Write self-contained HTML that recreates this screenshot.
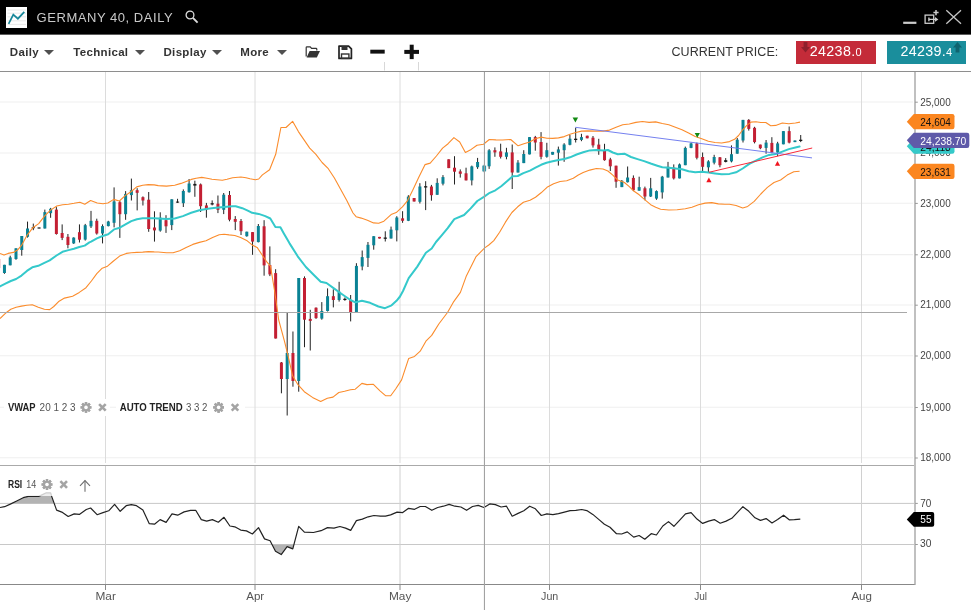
<!DOCTYPE html>
<html><head><meta charset="utf-8"><title>Germany 40, Daily</title>
<style>
html,body{margin:0;padding:0;background:#fff;}
body{width:971px;height:610px;overflow:hidden;position:relative;font-family:"Liberation Sans",sans-serif;}
#top,#bar,body>svg{will-change:transform;}
#top{position:absolute;left:0;top:0;width:971px;height:34px;background:#000;border-bottom:1px solid #5c5c5c;}
#logo{position:absolute;left:5.5px;top:7.3px;width:21.5px;height:20.5px;background:#fff;}
#title{position:absolute;left:36.6px;top:10px;font-size:13px;line-height:15px;color:#c9c9c9;letter-spacing:0.54px;white-space:nowrap;}
#bar{position:absolute;left:0;top:34px;width:971px;height:37px;background:#fff;border-bottom:1px solid #8e8e8e;}
#top{z-index:2;}
.mi{position:absolute;top:10.6px;font-size:11.5px;line-height:15px;font-weight:bold;color:#333;white-space:nowrap;letter-spacing:0.32px;}
.car{position:absolute;top:16.2px;width:0;height:0;border-left:5px solid transparent;border-right:5px solid transparent;border-top:5.6px solid #505050;}
#cp{position:absolute;left:671.5px;top:10.9px;font-size:12.5px;line-height:15px;color:#333;letter-spacing:0.06px;white-space:nowrap;}
.pb{position:absolute;top:6.7px;height:23.2px;color:#fff;font-size:14.3px;line-height:21.8px;white-space:nowrap;}
.pb span{font-size:11px;}
</style></head><body>
<div id="top">
 <div id="logo"><svg width="21.5" height="20.5" viewBox="0 0 21.5 20.5" style="display:block">
  <g stroke="#e3e3e3" stroke-width="0.8"><line x1="1.5" x2="20" y1="3" y2="3"/><line x1="1.5" x2="20" y1="6.2" y2="6.2"/><line x1="1.5" x2="20" y1="9.8" y2="9.8"/><line x1="1.5" x2="20" y1="13.8" y2="13.8"/><line x1="1.5" x2="20" y1="17.4" y2="17.4"/></g>
  <polyline points="2.6,16.9 7.3,7.6 11.9,11.7 18.3,4.9" fill="none" stroke="#17879a" stroke-width="1.7" stroke-linejoin="miter"/></svg></div>
 <div id="title">GERMANY 40, DAILY</div>
 <svg width="16" height="16" viewBox="0 0 16 16" style="position:absolute;left:183.5px;top:9px"><circle cx="6" cy="6" r="3.9" fill="none" stroke="#ddd" stroke-width="1.3"/><line x1="8.9" y1="8.9" x2="13.6" y2="13.6" stroke="#ddd" stroke-width="1.9"/></svg>
 <svg width="70" height="30" viewBox="900 0 70 30" style="position:absolute;left:900px;top:0">
  <rect x="903.2" y="21.7" width="13.2" height="2.2" fill="#ccc"/>
  <rect x="925.1" y="15.1" width="8.6" height="8.2" fill="none" stroke="#ccc" stroke-width="1.3"/>
  <path d="M928.6,19.4 H935.4 M928.9,17.6 V21.2" stroke="#ccc" stroke-width="1.4" fill="none"/>
  <path d="M935,17 L938.4,19.4 L935,21.8 Z" fill="#ccc"/>
  <path d="M936,10 V15.2 M933.4,12.6 H938.6" stroke="#ccc" stroke-width="1.5" fill="none"/>
  <path d="M946.3,10.2 L961,23.8 M961,10.2 L946.3,23.8" stroke="#c4c4c4" stroke-width="1.3" fill="none"/>
 </svg>
</div>
<div id="bar">
 <div class="mi" id="m1" style="left:9.8px">Daily</div><div class="car" style="left:44.4px"></div>
 <div class="mi" id="m2" style="left:73.3px">Technical</div><div class="car" style="left:134.7px"></div>
 <div class="mi" id="m3" style="left:163.5px">Display</div><div class="car" style="left:211.8px"></div>
 <div class="mi" id="m4" style="left:240.3px">More</div><div class="car" style="left:276.7px"></div>
 <svg width="130" height="37" viewBox="300 34 130 37" style="position:absolute;left:300px;top:0">
  <path d="M306.2,56.6 V47.6 Q306.2,46.8 307,46.8 H310.2 L311.6,48.4 H316 Q316.8,48.4 316.8,49.2 V50.6" fill="none" stroke="#333" stroke-width="1.2"/>
  <path d="M309.6,51 H320 L316.8,57.6 H306.6 Z" fill="#333"/>
  <path d="M339,46.1 H348.6 L351.4,48.9 V58.4 H339 Z" fill="none" stroke="#222" stroke-width="1.7" stroke-linejoin="round"/>
  <rect x="341.5" y="46.1" width="6" height="3.9" fill="#333"/>
  <rect x="341.5" y="54" width="7.4" height="4.4" fill="none" stroke="#333" stroke-width="1.4"/>
  <rect x="370.3" y="49.7" width="14.4" height="3.9" fill="#111"/>
  <rect x="404.3" y="49.9" width="14.7" height="4" fill="#111"/>
  <rect x="409.7" y="44.7" width="4" height="14.4" fill="#111"/>
  <line x1="384.5" x2="384.5" y1="62" y2="70.5" stroke="#d8d8d8" stroke-width="1"/>
  <line x1="418.5" x2="418.5" y1="62" y2="70.5" stroke="#d8d8d8" stroke-width="1"/>
 </svg>
 <div id="cp">CURRENT PRICE:</div>
 <div class="pb" style="left:796.1px;width:79.7px;background:#c42b39"><svg width="9" height="11" viewBox="0 0 9 11" style="position:absolute;left:4.8px;top:1.5px"><path d="M2.6,0 H6.4 V5 H9 L4.5,10.4 L0,5 H2.6 Z" fill="#8e1f2c"/></svg><div id="p1" style="position:absolute;left:13.6px;top:0;letter-spacing:0.36px">24238.<span>0</span></div></div>
 <div class="pb" style="left:887px;width:78.8px;background:#1a8e9c"><div id="p2" style="position:absolute;left:13.6px;top:0;letter-spacing:0.26px">24239.<span>4</span></div><svg width="9" height="11" viewBox="0 0 9 11" style="position:absolute;left:65.8px;top:1.5px"><path d="M2.6,10.4 H6.4 V5.4 H9 L4.5,0 L0,5.4 H2.6 Z" fill="#0f6470"/></svg></div>
</div>
<svg width="971" height="539" viewBox="0 71 971 539" style="position:absolute;left:0;top:71px" font-family="'Liberation Sans', sans-serif"><defs><clipPath id="cp"><rect x="0" y="72" width="908" height="393"/></clipPath></defs><line x1="0" x2="913" y1="102.0" y2="102.0" stroke="#efefef" stroke-width="1.1"/><line x1="0" x2="913" y1="153.0" y2="153.0" stroke="#efefef" stroke-width="1.1"/><line x1="0" x2="913" y1="203.2" y2="203.2" stroke="#efefef" stroke-width="1.1"/><line x1="0" x2="913" y1="254.6" y2="254.6" stroke="#efefef" stroke-width="1.1"/><line x1="0" x2="913" y1="305.0" y2="305.0" stroke="#efefef" stroke-width="1.1"/><line x1="0" x2="913" y1="355.8" y2="355.8" stroke="#efefef" stroke-width="1.1"/><line x1="0" x2="913" y1="407.3" y2="407.3" stroke="#efefef" stroke-width="1.1"/><line x1="0" x2="913" y1="457.8" y2="457.8" stroke="#efefef" stroke-width="1.1"/><line x1="0" x2="914" y1="503.4" y2="503.4" stroke="#c8c8c8" stroke-width="1"/><line x1="915" x2="917.8" y1="503.4" y2="503.4" stroke="#999" stroke-width="1"/><line x1="0" x2="914" y1="544.5" y2="544.5" stroke="#c8c8c8" stroke-width="1"/><line x1="915" x2="917.8" y1="544.5" y2="544.5" stroke="#999" stroke-width="1"/><line x1="105.5" x2="105.5" y1="72" y2="463" stroke="#dcdcdc" stroke-width="1"/><line x1="105.5" x2="105.5" y1="466" y2="584" stroke="#d0d0d0" stroke-width="1"/><line x1="105.5" x2="105.5" y1="584" y2="590" stroke="#8a8a8a" stroke-width="1"/><line x1="255" x2="255" y1="72" y2="463" stroke="#dcdcdc" stroke-width="1"/><line x1="255" x2="255" y1="466" y2="584" stroke="#d0d0d0" stroke-width="1"/><line x1="255" x2="255" y1="584" y2="590" stroke="#8a8a8a" stroke-width="1"/><line x1="400" x2="400" y1="72" y2="463" stroke="#dcdcdc" stroke-width="1"/><line x1="400" x2="400" y1="466" y2="584" stroke="#d0d0d0" stroke-width="1"/><line x1="400" x2="400" y1="584" y2="590" stroke="#8a8a8a" stroke-width="1"/><line x1="549.5" x2="549.5" y1="72" y2="463" stroke="#dcdcdc" stroke-width="1"/><line x1="549.5" x2="549.5" y1="466" y2="584" stroke="#d0d0d0" stroke-width="1"/><line x1="549.5" x2="549.5" y1="584" y2="590" stroke="#8a8a8a" stroke-width="1"/><line x1="700.5" x2="700.5" y1="72" y2="463" stroke="#dcdcdc" stroke-width="1"/><line x1="700.5" x2="700.5" y1="466" y2="584" stroke="#d0d0d0" stroke-width="1"/><line x1="700.5" x2="700.5" y1="584" y2="590" stroke="#8a8a8a" stroke-width="1"/><line x1="861.5" x2="861.5" y1="72" y2="463" stroke="#dcdcdc" stroke-width="1"/><line x1="861.5" x2="861.5" y1="466" y2="584" stroke="#d0d0d0" stroke-width="1"/><line x1="861.5" x2="861.5" y1="584" y2="590" stroke="#8a8a8a" stroke-width="1"/><line x1="0" x2="914" y1="465.5" y2="465.5" stroke="#aaa" stroke-width="1"/><line x1="0" x2="915" y1="584.5" y2="584.5" stroke="#888" stroke-width="1"/><line x1="915" x2="915" y1="72" y2="585" stroke="#a2a2a2" stroke-width="1.35"/><line x1="915" x2="917.8" y1="102.2" y2="102.2" stroke="#999" stroke-width="1"/><text x="920.2" y="105.5" font-size="10.8" fill="#444" textLength="30.5" lengthAdjust="spacingAndGlyphs">25,000</text><line x1="915" x2="917.8" y1="153.2" y2="153.2" stroke="#999" stroke-width="1"/><text x="920.2" y="156.4" font-size="10.8" fill="#444" textLength="30.5" lengthAdjust="spacingAndGlyphs">24,000</text><line x1="915" x2="917.8" y1="203.4" y2="203.4" stroke="#999" stroke-width="1"/><text x="920.2" y="206.6" font-size="10.8" fill="#444" textLength="30.5" lengthAdjust="spacingAndGlyphs">23,000</text><line x1="915" x2="917.8" y1="254.8" y2="254.8" stroke="#999" stroke-width="1"/><text x="920.2" y="258.1" font-size="10.8" fill="#444" textLength="30.5" lengthAdjust="spacingAndGlyphs">22,000</text><line x1="915" x2="917.8" y1="305.2" y2="305.2" stroke="#999" stroke-width="1"/><text x="920.2" y="308.4" font-size="10.8" fill="#444" textLength="30.5" lengthAdjust="spacingAndGlyphs">21,000</text><line x1="915" x2="917.8" y1="356.0" y2="356.0" stroke="#999" stroke-width="1"/><text x="920.2" y="359.2" font-size="10.8" fill="#444" textLength="30.5" lengthAdjust="spacingAndGlyphs">20,000</text><line x1="915" x2="917.8" y1="407.5" y2="407.5" stroke="#999" stroke-width="1"/><text x="920.2" y="410.8" font-size="10.8" fill="#444" textLength="30.5" lengthAdjust="spacingAndGlyphs">19,000</text><line x1="915" x2="917.8" y1="458.0" y2="458.0" stroke="#999" stroke-width="1"/><text x="920.2" y="461.2" font-size="10.8" fill="#444" textLength="30.5" lengthAdjust="spacingAndGlyphs">18,000</text><text x="920.3" y="506.7" font-size="10.8" fill="#444" textLength="11.1" lengthAdjust="spacingAndGlyphs">70</text><text x="920.1" y="547" font-size="10.8" fill="#444" textLength="11.4" lengthAdjust="spacingAndGlyphs">30</text><text x="95.5" y="599.8" font-size="10.5" fill="#555" textLength="20.4" lengthAdjust="spacingAndGlyphs">Mar</text><text x="246.2" y="599.8" font-size="10.5" fill="#555" textLength="18" lengthAdjust="spacingAndGlyphs">Apr</text><text x="389.0" y="599.8" font-size="10.5" fill="#555" textLength="22.4" lengthAdjust="spacingAndGlyphs">May</text><text x="541.1" y="599.8" font-size="10.5" fill="#555" textLength="17.2" lengthAdjust="spacingAndGlyphs">Jun</text><text x="694.2" y="599.8" font-size="10.5" fill="#555" textLength="12.9" lengthAdjust="spacingAndGlyphs">Jul</text><text x="851.4" y="599.8" font-size="10.5" fill="#555" textLength="20.6" lengthAdjust="spacingAndGlyphs">Aug</text><g clip-path="url(#cp)"><line x1="-1.32" x2="-1.32" y1="259.0" y2="268.1" stroke="#222" stroke-width="1"/><rect x="-2.82" y="259.0" width="3" height="9.1" fill="#c31f33"/><line x1="4.45" x2="4.45" y1="264.8" y2="273.8" stroke="#222" stroke-width="1"/><rect x="2.95" y="264.8" width="3" height="8.2" fill="#0a8294"/><line x1="10.22" x2="10.22" y1="255.7" y2="265.3" stroke="#222" stroke-width="1"/><rect x="8.72" y="257.4" width="3" height="7.9" fill="#0a8294"/><line x1="15.99" x2="15.99" y1="248.3" y2="259.8" stroke="#222" stroke-width="1"/><rect x="14.49" y="248.3" width="3" height="10.7" fill="#0a8294"/><line x1="21.76" x2="21.76" y1="236.0" y2="255.7" stroke="#222" stroke-width="1"/><rect x="20.26" y="236.0" width="3" height="14.0" fill="#0a8294"/><line x1="27.53" x2="27.53" y1="221.6" y2="237.6" stroke="#222" stroke-width="1"/><rect x="26.03" y="228.5" width="3" height="8.3" fill="#0a8294"/><line x1="33.30" x2="33.30" y1="223.6" y2="230.2" stroke="#222" stroke-width="1"/><rect x="31.70" y="227.2" width="3.2" height="1.0" fill="#1a1a1a"/><line x1="39.07" x2="39.07" y1="227.5" y2="228.5" stroke="#222" stroke-width="1"/><rect x="37.47" y="227.5" width="3.2" height="1.0" fill="#1a1a1a"/><line x1="44.84" x2="44.84" y1="209.6" y2="228.5" stroke="#222" stroke-width="1"/><rect x="43.34" y="212.1" width="3" height="16.4" fill="#0a8294"/><line x1="50.61" x2="50.61" y1="207.9" y2="217.8" stroke="#222" stroke-width="1"/><rect x="49.11" y="208.8" width="3" height="4.4" fill="#0a8294"/><line x1="56.38" x2="56.38" y1="207.1" y2="234.6" stroke="#222" stroke-width="1"/><rect x="54.88" y="209.6" width="3" height="24.4" fill="#c31f33"/><line x1="62.15" x2="62.15" y1="224.4" y2="240.1" stroke="#222" stroke-width="1"/><rect x="60.65" y="233.0" width="3" height="4.9" fill="#c31f33"/><line x1="67.92" x2="67.92" y1="234.0" y2="248.3" stroke="#222" stroke-width="1"/><rect x="66.42" y="236.8" width="3" height="8.2" fill="#c31f33"/><line x1="73.69" x2="73.69" y1="237.3" y2="243.9" stroke="#222" stroke-width="1"/><rect x="72.19" y="237.6" width="3" height="5.8" fill="#0a8294"/><line x1="79.46" x2="79.46" y1="224.4" y2="242.5" stroke="#222" stroke-width="1"/><rect x="77.96" y="232.2" width="3" height="7.5" fill="#c31f33"/><line x1="85.23" x2="85.23" y1="223.9" y2="240.6" stroke="#222" stroke-width="1"/><rect x="83.73" y="225.2" width="3" height="14.4" fill="#0a8294"/><line x1="91.00" x2="91.00" y1="210.9" y2="228.0" stroke="#222" stroke-width="1"/><rect x="89.50" y="220.8" width="3" height="5.6" fill="#0a8294"/><line x1="96.77" x2="96.77" y1="218.7" y2="234.6" stroke="#222" stroke-width="1"/><rect x="95.27" y="220.8" width="3" height="12.7" fill="#c31f33"/><line x1="102.54" x2="102.54" y1="224.4" y2="243.4" stroke="#222" stroke-width="1"/><rect x="101.04" y="226.1" width="3" height="7.4" fill="#0a8294"/><line x1="108.31" x2="108.31" y1="220.8" y2="226.4" stroke="#222" stroke-width="1"/><rect x="106.81" y="221.5" width="3" height="4.6" fill="#0a8294"/><line x1="114.08" x2="114.08" y1="187.4" y2="227.4" stroke="#222" stroke-width="1"/><rect x="112.58" y="201.4" width="3" height="21.4" fill="#0a8294"/><line x1="119.85" x2="119.85" y1="201.0" y2="237.9" stroke="#222" stroke-width="1"/><rect x="118.35" y="202.2" width="3" height="12.0" fill="#c31f33"/><line x1="125.62" x2="125.62" y1="191.1" y2="219.8" stroke="#222" stroke-width="1"/><rect x="124.12" y="193.9" width="3" height="20.3" fill="#0a8294"/><line x1="131.39" x2="131.39" y1="178.6" y2="200.5" stroke="#222" stroke-width="1"/><rect x="129.89" y="190.2" width="3" height="4.9" fill="#0a8294"/><line x1="137.16" x2="137.16" y1="188.2" y2="210.4" stroke="#222" stroke-width="1"/><rect x="135.66" y="190.2" width="3" height="2.6" fill="#c31f33"/><line x1="142.93" x2="142.93" y1="196.4" y2="205.5" stroke="#222" stroke-width="1"/><rect x="141.43" y="197.2" width="3" height="3.3" fill="#c31f33"/><line x1="148.70" x2="148.70" y1="192.0" y2="231.8" stroke="#222" stroke-width="1"/><rect x="147.20" y="199.7" width="3" height="29.3" fill="#c31f33"/><line x1="154.47" x2="154.47" y1="211.3" y2="241.6" stroke="#222" stroke-width="1"/><rect x="152.97" y="227.5" width="3" height="2.9" fill="#c31f33"/><line x1="160.24" x2="160.24" y1="212.3" y2="231.7" stroke="#222" stroke-width="1"/><rect x="158.74" y="217.7" width="3" height="12.9" fill="#0a8294"/><line x1="166.01" x2="166.01" y1="215.2" y2="232.9" stroke="#222" stroke-width="1"/><rect x="164.51" y="220.2" width="3" height="6.1" fill="#c31f33"/><line x1="171.78" x2="171.78" y1="199.3" y2="230.1" stroke="#222" stroke-width="1"/><rect x="170.28" y="199.3" width="3" height="25.8" fill="#0a8294"/><line x1="177.55" x2="177.55" y1="198.8" y2="202.9" stroke="#222" stroke-width="1"/><rect x="175.95" y="201.6" width="3.2" height="1.0" fill="#1a1a1a"/><line x1="183.32" x2="183.32" y1="189.4" y2="207.0" stroke="#222" stroke-width="1"/><rect x="181.82" y="191.0" width="3" height="12.2" fill="#0a8294"/><line x1="189.09" x2="189.09" y1="179.0" y2="192.7" stroke="#222" stroke-width="1"/><rect x="187.59" y="183.5" width="3" height="8.7" fill="#0a8294"/><line x1="194.86" x2="194.86" y1="180.7" y2="196.8" stroke="#222" stroke-width="1"/><rect x="193.26" y="183.9" width="3.2" height="1.7" fill="#1a1a1a"/><line x1="200.63" x2="200.63" y1="183.5" y2="212.0" stroke="#222" stroke-width="1"/><rect x="199.13" y="184.4" width="3" height="21.8" fill="#c31f33"/><line x1="206.40" x2="206.40" y1="202.9" y2="217.7" stroke="#222" stroke-width="1"/><rect x="204.90" y="205.4" width="3" height="4.1" fill="#c31f33"/><line x1="212.17" x2="212.17" y1="200.4" y2="205.4" stroke="#222" stroke-width="1"/><rect x="210.57" y="203.2" width="3.2" height="1.3" fill="#1a1a1a"/><line x1="217.94" x2="217.94" y1="195.5" y2="213.1" stroke="#222" stroke-width="1"/><rect x="216.44" y="203.7" width="3" height="6.1" fill="#c31f33"/><line x1="223.71" x2="223.71" y1="193.0" y2="214.1" stroke="#222" stroke-width="1"/><rect x="222.21" y="194.7" width="3" height="15.1" fill="#0a8294"/><line x1="229.48" x2="229.48" y1="191.0" y2="221.3" stroke="#222" stroke-width="1"/><rect x="227.98" y="195.0" width="3" height="24.7" fill="#c31f33"/><line x1="235.25" x2="235.25" y1="216.1" y2="230.1" stroke="#222" stroke-width="1"/><rect x="233.75" y="219.0" width="3" height="2.8" fill="#c31f33"/><line x1="241.02" x2="241.02" y1="219.0" y2="235.0" stroke="#222" stroke-width="1"/><rect x="239.52" y="221.0" width="3" height="10.2" fill="#c31f33"/><line x1="246.79" x2="246.79" y1="231.7" y2="236.7" stroke="#222" stroke-width="1"/><rect x="245.29" y="231.7" width="3" height="4.5" fill="#0a8294"/><line x1="252.56" x2="252.56" y1="232.1" y2="254.8" stroke="#222" stroke-width="1"/><rect x="251.06" y="232.1" width="3" height="9.5" fill="#c31f33"/><line x1="258.33" x2="258.33" y1="224.0" y2="242.4" stroke="#222" stroke-width="1"/><rect x="256.83" y="226.0" width="3" height="16.1" fill="#0a8294"/><line x1="264.10" x2="264.10" y1="220.2" y2="275.7" stroke="#222" stroke-width="1"/><rect x="262.60" y="226.3" width="3" height="39.1" fill="#c31f33"/><line x1="269.87" x2="269.87" y1="246.4" y2="276.1" stroke="#222" stroke-width="1"/><rect x="268.37" y="265.0" width="3" height="9.4" fill="#c31f33"/><line x1="275.64" x2="275.64" y1="269.2" y2="338.5" stroke="#222" stroke-width="1"/><rect x="274.14" y="273.1" width="3" height="65.4" fill="#c31f33"/><line x1="281.41" x2="281.41" y1="362.0" y2="393.3" stroke="#222" stroke-width="1"/><rect x="279.91" y="362.5" width="3" height="16.5" fill="#c31f33"/><line x1="287.18" x2="287.18" y1="313.0" y2="415.5" stroke="#222" stroke-width="1"/><rect x="285.68" y="353.0" width="3" height="26.0" fill="#0a8294"/><line x1="292.95" x2="292.95" y1="331.5" y2="386.7" stroke="#222" stroke-width="1"/><rect x="291.45" y="353.0" width="3" height="28.0" fill="#c31f33"/><line x1="298.72" x2="298.72" y1="278.0" y2="391.7" stroke="#222" stroke-width="1"/><rect x="297.22" y="278.0" width="3" height="103.0" fill="#0a8294"/><line x1="304.49" x2="304.49" y1="276.4" y2="347.2" stroke="#222" stroke-width="1"/><rect x="302.99" y="278.0" width="3" height="41.7" fill="#c31f33"/><line x1="310.26" x2="310.26" y1="309.8" y2="350.5" stroke="#222" stroke-width="1"/><rect x="308.76" y="318.9" width="3" height="2.0" fill="#c31f33"/><line x1="316.03" x2="316.03" y1="307.4" y2="318.9" stroke="#222" stroke-width="1"/><rect x="314.53" y="307.7" width="3" height="10.4" fill="#c31f33"/><line x1="321.80" x2="321.80" y1="302.1" y2="319.7" stroke="#222" stroke-width="1"/><rect x="320.30" y="311.0" width="3" height="7.6" fill="#0a8294"/><line x1="327.57" x2="327.57" y1="288.4" y2="311.5" stroke="#222" stroke-width="1"/><rect x="326.07" y="296.2" width="3" height="14.8" fill="#0a8294"/><line x1="333.34" x2="333.34" y1="289.3" y2="307.4" stroke="#222" stroke-width="1"/><rect x="331.84" y="296.2" width="3" height="3.8" fill="#c31f33"/><line x1="339.11" x2="339.11" y1="281.8" y2="301.6" stroke="#222" stroke-width="1"/><rect x="337.61" y="291.7" width="3" height="8.3" fill="#0a8294"/><line x1="344.88" x2="344.88" y1="297.5" y2="300.8" stroke="#222" stroke-width="1"/><rect x="343.28" y="298.8" width="3.2" height="1.2" fill="#1a1a1a"/><line x1="350.65" x2="350.65" y1="295.0" y2="321.4" stroke="#222" stroke-width="1"/><rect x="349.15" y="300.0" width="3" height="12.3" fill="#c31f33"/><line x1="356.42" x2="356.42" y1="263.2" y2="312.3" stroke="#222" stroke-width="1"/><rect x="354.92" y="265.9" width="3" height="46.4" fill="#0a8294"/><line x1="362.19" x2="362.19" y1="250.5" y2="270.3" stroke="#222" stroke-width="1"/><rect x="360.69" y="257.1" width="3" height="9.4" fill="#0a8294"/><line x1="367.96" x2="367.96" y1="242.0" y2="267.0" stroke="#222" stroke-width="1"/><rect x="366.46" y="244.8" width="3" height="13.1" fill="#0a8294"/><line x1="373.73" x2="373.73" y1="236.2" y2="249.7" stroke="#222" stroke-width="1"/><rect x="372.23" y="236.2" width="3" height="9.1" fill="#0a8294"/><line x1="379.50" x2="379.50" y1="236.9" y2="238.5" stroke="#222" stroke-width="1"/><rect x="378.00" y="236.9" width="3" height="1.6" fill="#c31f33"/><line x1="385.27" x2="385.27" y1="231.3" y2="241.5" stroke="#222" stroke-width="1"/><rect x="383.67" y="237.5" width="3.2" height="1.3" fill="#1a1a1a"/><line x1="391.04" x2="391.04" y1="226.6" y2="238.5" stroke="#222" stroke-width="1"/><rect x="389.54" y="229.6" width="3" height="8.9" fill="#0a8294"/><line x1="396.81" x2="396.81" y1="216.2" y2="241.4" stroke="#222" stroke-width="1"/><rect x="395.31" y="217.5" width="3" height="12.8" fill="#0a8294"/><line x1="402.58" x2="402.58" y1="211.2" y2="222.8" stroke="#222" stroke-width="1"/><rect x="401.08" y="218.3" width="3" height="2.5" fill="#c31f33"/><line x1="408.35" x2="408.35" y1="195.2" y2="221.1" stroke="#222" stroke-width="1"/><rect x="406.85" y="196.6" width="3" height="24.2" fill="#0a8294"/><line x1="414.12" x2="414.12" y1="198.0" y2="201.5" stroke="#222" stroke-width="1"/><rect x="412.62" y="198.0" width="3" height="3.5" fill="#c31f33"/><line x1="419.89" x2="419.89" y1="183.2" y2="203.5" stroke="#222" stroke-width="1"/><rect x="418.39" y="186.5" width="3" height="15.3" fill="#0a8294"/><line x1="425.66" x2="425.66" y1="181.2" y2="210.1" stroke="#222" stroke-width="1"/><rect x="424.06" y="186.2" width="3.2" height="1.3" fill="#1a1a1a"/><line x1="431.43" x2="431.43" y1="184.9" y2="200.7" stroke="#222" stroke-width="1"/><rect x="429.93" y="186.5" width="3" height="8.7" fill="#c31f33"/><line x1="437.20" x2="437.20" y1="178.3" y2="194.8" stroke="#222" stroke-width="1"/><rect x="435.70" y="182.9" width="3" height="11.9" fill="#0a8294"/><line x1="442.97" x2="442.97" y1="175.1" y2="185.4" stroke="#222" stroke-width="1"/><rect x="441.47" y="177.1" width="3" height="6.6" fill="#0a8294"/><line x1="448.74" x2="448.74" y1="159.3" y2="168.1" stroke="#222" stroke-width="1"/><rect x="447.24" y="159.3" width="3" height="8.8" fill="#c31f33"/><line x1="454.51" x2="454.51" y1="156.2" y2="184.5" stroke="#222" stroke-width="1"/><rect x="453.01" y="167.7" width="3" height="4.0" fill="#c31f33"/><line x1="460.28" x2="460.28" y1="169.4" y2="177.6" stroke="#222" stroke-width="1"/><rect x="458.78" y="171.4" width="3" height="2.4" fill="#c31f33"/><line x1="466.05" x2="466.05" y1="167.7" y2="180.4" stroke="#222" stroke-width="1"/><rect x="464.55" y="173.3" width="3" height="7.1" fill="#c31f33"/><line x1="471.82" x2="471.82" y1="165.6" y2="185.4" stroke="#222" stroke-width="1"/><rect x="470.32" y="166.4" width="3" height="14.0" fill="#0a8294"/><line x1="477.59" x2="477.59" y1="157.9" y2="168.9" stroke="#222" stroke-width="1"/><rect x="476.09" y="162.0" width="3" height="5.2" fill="#0a8294"/><line x1="484.20" x2="484.20" y1="164.8" y2="172.2" stroke="#222" stroke-width="1"/><rect x="482.30" y="165.6" width="3.8" height="5.8" fill="#2f98aa"/><line x1="489.13" x2="489.13" y1="149.1" y2="168.9" stroke="#222" stroke-width="1"/><rect x="487.63" y="150.3" width="3" height="16.0" fill="#0a8294"/><line x1="494.90" x2="494.90" y1="147.4" y2="156.8" stroke="#222" stroke-width="1"/><rect x="493.40" y="150.2" width="3" height="2.2" fill="#c31f33"/><line x1="500.67" x2="500.67" y1="143.7" y2="158.5" stroke="#222" stroke-width="1"/><rect x="499.17" y="151.4" width="3" height="5.4" fill="#c31f33"/><line x1="506.44" x2="506.44" y1="147.8" y2="159.3" stroke="#222" stroke-width="1"/><rect x="504.94" y="152.4" width="3" height="4.4" fill="#0a8294"/><line x1="512.21" x2="512.21" y1="144.5" y2="189.0" stroke="#222" stroke-width="1"/><rect x="510.71" y="152.4" width="3" height="20.1" fill="#c31f33"/><line x1="517.98" x2="517.98" y1="160.1" y2="172.5" stroke="#222" stroke-width="1"/><rect x="516.48" y="162.6" width="3" height="9.9" fill="#0a8294"/><line x1="523.75" x2="523.75" y1="150.2" y2="163.1" stroke="#222" stroke-width="1"/><rect x="522.25" y="154.0" width="3" height="9.1" fill="#0a8294"/><line x1="529.52" x2="529.52" y1="137.1" y2="154.4" stroke="#222" stroke-width="1"/><rect x="528.02" y="137.1" width="3" height="17.3" fill="#0a8294"/><line x1="535.29" x2="535.29" y1="135.9" y2="150.7" stroke="#222" stroke-width="1"/><rect x="533.79" y="137.1" width="3" height="5.4" fill="#c31f33"/><line x1="541.06" x2="541.06" y1="132.1" y2="159.3" stroke="#222" stroke-width="1"/><rect x="539.56" y="142.0" width="3" height="14.8" fill="#c31f33"/><line x1="546.83" x2="546.83" y1="142.8" y2="157.7" stroke="#222" stroke-width="1"/><rect x="545.33" y="150.2" width="3" height="6.6" fill="#0a8294"/><line x1="552.60" x2="552.60" y1="151.9" y2="154.7" stroke="#222" stroke-width="1"/><rect x="551.10" y="151.9" width="3" height="2.8" fill="#0a8294"/><line x1="558.37" x2="558.37" y1="146.6" y2="165.6" stroke="#222" stroke-width="1"/><rect x="556.87" y="149.4" width="3" height="3.3" fill="#0a8294"/><line x1="564.14" x2="564.14" y1="143.2" y2="161.8" stroke="#222" stroke-width="1"/><rect x="562.64" y="144.5" width="3" height="5.7" fill="#0a8294"/><line x1="569.91" x2="569.91" y1="134.9" y2="145.3" stroke="#222" stroke-width="1"/><rect x="568.41" y="138.7" width="3" height="6.1" fill="#0a8294"/><line x1="575.68" x2="575.68" y1="127.7" y2="142.5" stroke="#222" stroke-width="1"/><rect x="574.08" y="138.7" width="3.2" height="1.3" fill="#1a1a1a"/><line x1="581.45" x2="581.45" y1="133.8" y2="141.2" stroke="#222" stroke-width="1"/><rect x="579.95" y="137.1" width="3" height="2.8" fill="#0a8294"/><line x1="587.22" x2="587.22" y1="135.7" y2="138.3" stroke="#222" stroke-width="1"/><rect x="585.72" y="135.7" width="3" height="2.6" fill="#c31f33"/><line x1="592.99" x2="592.99" y1="136.0" y2="147.6" stroke="#222" stroke-width="1"/><rect x="591.49" y="137.7" width="3" height="7.7" fill="#c31f33"/><line x1="598.76" x2="598.76" y1="138.8" y2="154.8" stroke="#222" stroke-width="1"/><rect x="597.26" y="144.6" width="3" height="6.6" fill="#c31f33"/><line x1="604.53" x2="604.53" y1="143.8" y2="160.7" stroke="#222" stroke-width="1"/><rect x="603.03" y="150.4" width="3" height="9.8" fill="#c31f33"/><line x1="610.30" x2="610.30" y1="157.8" y2="171.0" stroke="#222" stroke-width="1"/><rect x="608.80" y="159.4" width="3" height="6.9" fill="#c31f33"/><line x1="616.07" x2="616.07" y1="165.7" y2="187.8" stroke="#222" stroke-width="1"/><rect x="614.57" y="165.7" width="3" height="16.0" fill="#c31f33"/><line x1="621.84" x2="621.84" y1="180.0" y2="187.1" stroke="#222" stroke-width="1"/><rect x="620.34" y="180.8" width="3" height="6.3" fill="#0a8294"/><line x1="627.61" x2="627.61" y1="166.5" y2="182.5" stroke="#222" stroke-width="1"/><rect x="626.11" y="177.5" width="3" height="4.7" fill="#0a8294"/><line x1="633.38" x2="633.38" y1="175.4" y2="191.1" stroke="#222" stroke-width="1"/><rect x="631.88" y="177.9" width="3" height="12.3" fill="#c31f33"/><line x1="639.15" x2="639.15" y1="176.7" y2="190.7" stroke="#222" stroke-width="1"/><rect x="637.65" y="187.1" width="3" height="3.6" fill="#0a8294"/><line x1="644.92" x2="644.92" y1="186.6" y2="200.3" stroke="#222" stroke-width="1"/><rect x="643.42" y="188.3" width="3" height="8.2" fill="#c31f33"/><line x1="650.69" x2="650.69" y1="177.9" y2="197.0" stroke="#222" stroke-width="1"/><rect x="649.19" y="188.3" width="3" height="8.2" fill="#0a8294"/><line x1="656.46" x2="656.46" y1="190.4" y2="199.8" stroke="#222" stroke-width="1"/><rect x="654.96" y="191.1" width="3" height="7.5" fill="#0a8294"/><line x1="662.23" x2="662.23" y1="175.9" y2="198.6" stroke="#222" stroke-width="1"/><rect x="660.73" y="176.7" width="3" height="15.7" fill="#0a8294"/><line x1="668.00" x2="668.00" y1="161.9" y2="177.5" stroke="#222" stroke-width="1"/><rect x="666.50" y="166.8" width="3" height="10.7" fill="#0a8294"/><line x1="673.77" x2="673.77" y1="164.4" y2="179.5" stroke="#222" stroke-width="1"/><rect x="672.27" y="167.7" width="3" height="10.7" fill="#c31f33"/><line x1="679.54" x2="679.54" y1="163.5" y2="178.4" stroke="#222" stroke-width="1"/><rect x="678.04" y="164.4" width="3" height="14.0" fill="#0a8294"/><line x1="685.31" x2="685.31" y1="146.6" y2="165.2" stroke="#222" stroke-width="1"/><rect x="683.81" y="147.9" width="3" height="17.3" fill="#0a8294"/><line x1="691.08" x2="691.08" y1="142.6" y2="148.2" stroke="#222" stroke-width="1"/><rect x="689.58" y="143.4" width="3" height="4.5" fill="#0a8294"/><line x1="696.85" x2="696.85" y1="142.6" y2="159.4" stroke="#222" stroke-width="1"/><rect x="695.35" y="143.4" width="3" height="14.4" fill="#c31f33"/><line x1="702.62" x2="702.62" y1="152.5" y2="171.0" stroke="#222" stroke-width="1"/><rect x="701.12" y="157.0" width="3" height="9.8" fill="#c31f33"/><line x1="708.39" x2="708.39" y1="160.2" y2="172.3" stroke="#222" stroke-width="1"/><rect x="706.89" y="161.4" width="3" height="5.9" fill="#0a8294"/><line x1="714.16" x2="714.16" y1="154.8" y2="164.4" stroke="#222" stroke-width="1"/><rect x="712.66" y="157.0" width="3" height="5.7" fill="#0a8294"/><line x1="719.93" x2="719.93" y1="157.0" y2="167.3" stroke="#222" stroke-width="1"/><rect x="718.43" y="157.3" width="3" height="7.9" fill="#c31f33"/><line x1="725.70" x2="725.70" y1="158.1" y2="162.4" stroke="#222" stroke-width="1"/><rect x="724.10" y="160.2" width="3.2" height="1.7" fill="#1a1a1a"/><line x1="731.47" x2="731.47" y1="145.4" y2="162.4" stroke="#222" stroke-width="1"/><rect x="729.97" y="154.2" width="3" height="7.2" fill="#0a8294"/><line x1="737.24" x2="737.24" y1="138.0" y2="153.7" stroke="#222" stroke-width="1"/><rect x="735.74" y="139.7" width="3" height="14.0" fill="#0a8294"/><line x1="743.01" x2="743.01" y1="119.9" y2="142.5" stroke="#222" stroke-width="1"/><rect x="741.51" y="119.9" width="3" height="20.6" fill="#0a8294"/><line x1="748.78" x2="748.78" y1="119.1" y2="130.6" stroke="#222" stroke-width="1"/><rect x="747.28" y="119.9" width="3" height="9.0" fill="#c31f33"/><line x1="754.55" x2="754.55" y1="126.8" y2="143.4" stroke="#222" stroke-width="1"/><rect x="753.05" y="127.8" width="3" height="14.3" fill="#c31f33"/><line x1="760.32" x2="760.32" y1="144.6" y2="149.2" stroke="#222" stroke-width="1"/><rect x="758.82" y="144.6" width="3" height="3.6" fill="#c31f33"/><line x1="766.09" x2="766.09" y1="140.0" y2="153.7" stroke="#222" stroke-width="1"/><rect x="764.59" y="142.6" width="3" height="5.3" fill="#0a8294"/><line x1="771.86" x2="771.86" y1="137.2" y2="153.2" stroke="#222" stroke-width="1"/><rect x="770.36" y="142.9" width="3" height="9.6" fill="#c31f33"/><line x1="777.63" x2="777.63" y1="141.8" y2="156.1" stroke="#222" stroke-width="1"/><rect x="776.13" y="143.4" width="3" height="9.1" fill="#0a8294"/><line x1="783.40" x2="783.40" y1="131.1" y2="144.3" stroke="#222" stroke-width="1"/><rect x="781.90" y="131.1" width="3" height="13.2" fill="#0a8294"/><line x1="789.17" x2="789.17" y1="126.5" y2="143.4" stroke="#222" stroke-width="1"/><rect x="787.67" y="131.1" width="3" height="11.5" fill="#c31f33"/><line x1="794.94" x2="794.94" y1="140.5" y2="142.1" stroke="#222" stroke-width="1"/><rect x="793.44" y="140.5" width="3" height="1.6" fill="#0a8294"/><line x1="800.71" x2="800.71" y1="135.0" y2="142.1" stroke="#222" stroke-width="1"/><rect x="799.11" y="139.7" width="3.2" height="1.3" fill="#1a1a1a"/><polyline points="0.0,253.4 4.0,255.1 8.1,253.4 13.4,252.4 17.5,250.1 21.5,245.4 27.2,235.1 32.9,227.7 38.7,223.6 44.5,216.2 50.2,210.4 56.8,206.0 62.6,204.7 68.4,204.2 74.1,203.3 79.9,202.2 84.8,204.3 90.6,200.5 97.2,203.0 103.0,203.8 107.9,203.0 113.7,199.4 119.4,201.0 125.2,195.6 131.3,191.5 136.7,186.9 142.7,185.2 148.3,184.6 154.2,184.9 158.2,185.6 166.5,186.1 174.7,185.2 181.0,183.4 186.2,181.4 191.3,179.4 196.1,178.2 201.7,177.4 207.0,178.2 212.0,179.3 217.0,179.8 222.3,180.3 227.0,179.3 232.6,177.7 240.9,177.0 246.0,177.8 250.0,178.8 255.4,179.8 258.7,179.0 262.4,174.9 269.6,169.7 275.7,154.3 280.9,127.5 286.0,127.5 292.6,121.3 298.4,131.6 309.7,148.1 315.9,154.3 322.1,162.5 328.3,168.7 334.4,178.0 340.6,189.3 346.8,200.6 353.0,213.0 356.1,216.7 361.2,218.1 367.4,220.2 373.6,222.9 378.7,223.3 383.9,221.2 391.1,214.6 396.2,212.6 402.4,206.8 407.6,200.6 412.7,190.3 418.9,176.9 425.1,164.6 430.2,163.1 436.4,156.0 442.6,148.1 448.1,143.7 453.9,137.6 459.7,142.0 465.4,152.4 471.2,149.4 477.0,145.3 483.5,144.2 489.3,139.5 495.9,139.9 502.5,140.0 510.7,139.5 518.1,145.8 523.9,143.7 529.7,142.0 535.4,138.7 541.2,137.1 547.0,138.2 552.7,138.4 558.5,137.9 564.3,136.6 570.0,134.2 575.8,132.5 581.5,131.1 588.1,130.9 594.7,131.1 603.0,131.1 609.5,130.1 616.1,127.3 622.7,124.8 629.3,124.0 635.9,122.4 642.5,121.5 649.1,122.4 655.7,121.9 662.3,123.5 668.8,124.8 675.4,127.3 682.0,129.8 688.6,133.1 695.2,136.4 701.8,138.8 708.4,141.3 715.0,142.5 721.6,143.0 729.5,141.6 734.5,139.3 738.6,135.5 742.7,129.8 746.8,125.4 751.0,122.1 755.9,121.8 760.8,122.5 765.8,122.5 770.7,125.8 775.7,125.4 782.3,123.0 788.8,123.8 795.4,123.0 800.0,122.1" fill="none" stroke="#fb8c2c" stroke-width="1.1" stroke-linejoin="round"/><polyline points="0.0,318.6 5.4,313.3 10.8,309.2 16.1,307.2 21.5,306.1 26.9,305.2 32.3,304.8 38.3,307.2 44.4,309.2 49.7,309.6 53.8,306.5 59.1,301.2 64.5,298.1 72.6,296.2 79.3,292.4 86.0,287.7 91.4,281.0 96.8,273.6 102.2,268.2 107.5,266.2 112.9,261.5 119.6,256.1 126.3,253.4 131.3,252.8 136.9,252.4 142.7,252.1 148.4,251.6 154.2,251.9 158.2,252.0 166.5,252.8 173.1,252.8 179.7,250.7 186.2,247.4 192.8,244.4 199.4,242.4 206.0,240.8 212.6,237.5 219.2,234.7 224.1,234.2 229.1,234.9 234.8,235.5 240.6,237.5 247.2,240.8 252.1,244.9 257.1,247.4 262.0,254.8 267.0,262.2 270.5,266.2 274.6,291.0 277.9,314.0 278.7,320.0 284.5,341.4 287.8,354.6 292.7,376.0 297.7,384.3 304.3,391.7 312.5,397.4 320.7,401.5 327.3,398.3 333.0,397.1 338.8,392.5 344.6,391.3 350.4,389.7 355.3,389.2 361.9,383.4 366.9,384.6 373.4,384.3 380.0,390.8 385.8,395.8 390.7,395.8 395.8,388.8 401.6,379.9 408.7,358.4 414.5,356.4 420.2,351.2 425.9,341.2 431.7,335.4 438.8,324.0 447.5,312.5 453.2,302.4 460.4,292.4 466.1,276.6 476.1,256.6 484.7,247.9 488.8,245.0 493.8,240.6 499.6,232.3 505.3,222.4 511.9,212.5 517.7,206.8 523.4,202.3 530.0,200.2 535.5,197.2 541.1,192.8 547.0,187.3 553.6,183.7 560.1,181.5 566.7,180.7 573.3,178.3 578.3,175.0 583.2,172.6 589.8,170.1 596.4,168.5 603.0,169.0 607.9,171.0 612.8,175.1 617.8,180.0 624.4,182.5 629.3,186.6 633.4,190.7 639.2,194.8 645.0,199.8 650.7,204.7 655.7,207.2 660.6,209.2 668.8,210.0 677.1,209.7 685.3,208.8 691.9,207.2 698.5,204.7 705.1,203.1 711.7,202.6 718.3,203.9 724.9,204.2 729.5,204.2 736.1,205.5 742.7,208.0 747.7,206.4 754.2,201.4 760.8,194.0 767.4,187.4 774.0,182.5 780.6,180.0 787.2,175.1 793.8,171.8 799.6,171.3" fill="none" stroke="#fb8c2c" stroke-width="1.1" stroke-linejoin="round"/><polyline points="0.0,286.4 5.4,283.7 10.8,281.0 16.1,279.0 21.5,275.6 26.9,270.9 32.3,267.3 38.3,265.8 44.4,262.8 49.7,260.4 56.5,255.5 62.5,251.8 68.5,250.1 73.9,248.7 79.3,247.0 84.7,245.6 89.4,242.4 91.1,241.7 96.9,238.4 102.6,236.0 108.2,234.3 114.0,229.4 119.8,227.7 125.5,224.4 131.3,221.1 136.9,219.2 142.7,218.3 148.4,218.2 154.2,218.3 158.2,218.5 166.5,219.0 174.7,218.5 182.9,216.1 191.2,212.8 199.4,210.3 207.7,208.7 215.9,207.8 224.1,207.0 232.4,206.2 235.7,206.2 242.3,208.2 248.8,211.1 252.1,212.8 258.7,213.9 265.3,216.1 270.3,218.5 275.4,227.0 280.4,227.2 283.7,233.2 289.4,243.1 297.7,256.3 305.9,267.0 314.1,275.2 320.7,281.8 326.5,283.0 333.9,288.4 342.1,294.2 350.4,300.0 355.3,302.4 361.9,300.8 370.1,302.8 378.4,306.5 385.0,308.2 391.6,305.3 396.5,300.8 400.0,296.5 403.0,291.0 408.7,278.1 417.3,266.6 425.9,252.8 431.7,248.5 436.0,242.0 441.7,235.4 447.7,228.2 454.3,219.1 464.1,215.0 470.7,208.4 477.3,201.0 483.9,196.9 489.7,192.8 495.4,190.3 501.2,186.2 507.0,181.2 512.7,176.3 517.7,176.0 523.4,173.1 530.0,170.6 535.5,167.7 541.1,164.8 546.5,162.8 552.7,161.3 558.5,160.1 564.3,159.0 570.0,157.3 576.6,154.5 583.2,152.3 589.8,150.4 596.4,150.0 603.0,150.4 607.9,150.0 612.8,152.5 617.8,154.2 624.4,153.7 631.0,157.0 637.5,159.1 644.1,161.1 650.7,163.5 657.3,165.7 662.3,167.3 668.8,167.7 675.4,168.5 682.0,169.3 688.6,171.3 695.2,172.3 701.8,171.8 708.4,172.6 715.0,173.4 721.6,174.3 729.5,173.9 736.1,172.3 742.7,168.5 749.3,163.9 755.9,160.6 762.5,157.4 769.1,154.9 775.7,154.1 782.3,151.6 788.8,149.1 795.4,147.5 799.6,146.6" fill="none" stroke="#34c9cb" stroke-width="2.0" stroke-linejoin="round" stroke-linecap="round"/><line x1="575.4" y1="127.3" x2="812" y2="157.9" stroke="#6d79ee" stroke-width="0.95"/><line x1="708.9" y1="172.3" x2="812.2" y2="148.0" stroke="#f82a3a" stroke-width="1.0"/><polygon points="572.6,117.4 578.1,117.4 575.4,122.4" fill="#128a12"/><polygon points="694.7,133.0 699.9,133.0 697.3,137.7" fill="#128a12"/><polygon points="706.3,182.2 711.5,182.2 708.9,177.5" fill="#f0141e"/><polygon points="774.9,165.7 780.1,165.7 777.5,161.0" fill="#f0141e"/></g><polygon points="10.9,503.5 16.7,501.0 23.2,497.7 28.3,496.4 38.6,496.4 42.5,494.6 46.3,492.8 50.7,492.8 51.5,495.9 54.2,503.5" fill="#b3b3b3"/><polygon points="272.0,544.5 275.5,551.3 281.2,554.6 287.1,546.6 292.8,548.9 294.0,544.5" fill="#b3b3b3"/><polyline points="0.0,507.5 4.6,506.7 10.3,504.1 16.7,501.0 23.2,497.7 28.3,496.4 38.6,496.4 42.5,494.6 46.3,492.8 50.7,492.8 51.5,495.9 56.6,510.1 61.8,512.1 68.2,516.5 74.2,513.9 79.3,514.4 86.3,509.5 90.6,508.0 97.1,514.7 103.0,512.6 108.7,510.8 114.6,504.4 120.2,511.3 126.2,505.7 131.3,504.6 136.5,505.7 142.9,510.1 149.3,523.7 154.5,524.2 160.1,519.6 166.1,522.4 172.0,513.9 177.7,515.2 184.1,511.9 190.5,510.3 195.7,510.3 201.3,519.6 206.7,521.1 212.4,519.6 218.3,522.2 224.0,517.3 229.9,526.0 234.8,526.8 240.7,530.1 246.4,530.9 252.4,534.0 258.5,527.6 264.5,538.9 270.1,540.7 275.5,551.3 281.2,554.6 287.1,546.6 292.8,548.9 298.7,526.3 304.4,532.2 313.4,532.5 321.1,530.7 327.5,527.6 334.0,528.1 339.9,526.5 345.6,528.1 350.7,530.4 356.4,520.6 362.3,519.1 368.2,516.8 373.9,515.5 380.3,516.2 385.5,516.2 390.6,514.9 397.1,512.1 402.7,512.6 408.6,508.3 414.6,509.3 420.2,506.5 425.4,506.5 431.8,510.3 437.7,507.5 443.4,506.2 449.1,504.4 455.0,506.2 460.9,507.0 466.6,510.3 472.5,506.5 478.2,505.4 483.9,507.5 489.8,503.9 495.4,504.6 501.1,507.0 506.5,506.2 512.2,516.2 518.1,513.4 523.8,510.8 529.7,506.2 535.4,508.8 541.3,515.5 546.9,513.9 552.9,514.7 558.5,513.7 564.4,512.1 570.1,510.6 575.8,510.3 581.7,509.5 586.8,510.6 592.8,514.4 598.4,519.1 604.4,524.2 610.0,527.3 616.5,533.7 621.6,534.0 627.3,531.9 633.7,537.1 639.1,535.5 644.8,539.2 651.2,533.7 656.4,535.0 662.8,526.0 668.5,521.6 673.9,526.3 679.5,520.4 685.5,513.9 691.1,512.6 697.0,519.1 702.7,523.4 708.6,521.1 714.3,519.6 720.2,523.2 726.1,521.1 731.8,518.3 737.7,512.1 742.9,506.7 748.8,511.3 755.0,517.8 760.4,520.4 766.1,518.6 772.0,522.9 777.6,519.6 783.6,515.2 789.2,519.8 794.4,519.6 800.3,519.1" fill="none" stroke="#222" stroke-width="1.2" stroke-linejoin="round"/><line x1="484.45" x2="484.45" y1="72" y2="610" stroke="#a2a2a2" stroke-width="1.1"/><line x1="0" x2="907" y1="312.5" y2="312.5" stroke="#a8a8a8" stroke-width="1"/><path d="M906.8,121.7 L913.8,114.1 L952.3,114.1 Q954.5,114.1 954.5,116.3 L954.5,127.1 Q954.5,129.3 952.3,129.3 L913.8,129.3 Z" fill="#fb8620"/><text x="920.3" y="126.0" font-size="10.8" fill="#111" textLength="30.5" lengthAdjust="spacingAndGlyphs">24,604</text><path d="M906.8,146.2 L913.8,138.6 L952.3,138.6 Q954.5,138.6 954.5,140.8 L954.5,151.6 Q954.5,153.8 952.3,153.8 L913.8,153.8 Z" fill="#35c9c9"/><text x="920.3" y="150.5" font-size="10.8" fill="#111" textLength="30.5" lengthAdjust="spacingAndGlyphs">24,118</text><path d="M906.8,171.3 L913.8,163.7 L952.3,163.7 Q954.5,163.7 954.5,165.9 L954.5,176.7 Q954.5,178.9 952.3,178.9 L913.8,178.9 Z" fill="#fb8620"/><text x="920.3" y="175.6" font-size="10.8" fill="#111" textLength="30.5" lengthAdjust="spacingAndGlyphs">23,631</text><path d="M906.8,140.3 L913.8,132.7 L967.0999999999999,132.7 Q969.3,132.7 969.3,134.9 L969.3,145.7 Q969.3,147.9 967.0999999999999,147.9 L913.8,147.9 Z" fill="#5f5aa9"/><text x="920.3" y="144.6" font-size="10.8" fill="#fff" textLength="46" lengthAdjust="spacingAndGlyphs">24,238.70</text><path d="M906.8,519.5 L913.8,512.1 L932.2,512.1 Q934.2,512.1 934.2,514.1 L934.2,524.8 Q934.2,526.8 932.2,526.8 L913.8,526.8 Z" fill="#000"/><text x="920.3" y="523.2" font-size="10.8" fill="#fff" textLength="11.2" lengthAdjust="spacingAndGlyphs">55</text><rect x="4" y="399" width="106" height="17" fill="#fff"/><rect x="116" y="399" width="129" height="17" fill="#fff"/><text x="8" y="411.3" font-size="10" font-weight="bold" fill="#222" textLength="27.6" lengthAdjust="spacingAndGlyphs">VWAP</text><text x="39.6" y="411.3" font-size="10.5" fill="#555" textLength="36" lengthAdjust="spacingAndGlyphs">20 1 2 3</text><g transform="translate(86,407.4) scale(0.9)"><rect x="-1.3" y="-6" width="2.6" height="12" fill="#a4a4a4" transform="rotate(0)"/><rect x="-1.3" y="-6" width="2.6" height="12" fill="#a4a4a4" transform="rotate(45)"/><rect x="-1.3" y="-6" width="2.6" height="12" fill="#a4a4a4" transform="rotate(90)"/><rect x="-1.3" y="-6" width="2.6" height="12" fill="#a4a4a4" transform="rotate(135)"/><rect x="-1.3" y="-6" width="2.6" height="12" fill="#a4a4a4" transform="rotate(180)"/><rect x="-1.3" y="-6" width="2.6" height="12" fill="#a4a4a4" transform="rotate(225)"/><rect x="-1.3" y="-6" width="2.6" height="12" fill="#a4a4a4" transform="rotate(270)"/><rect x="-1.3" y="-6" width="2.6" height="12" fill="#a4a4a4" transform="rotate(315)"/><circle r="4.3" fill="#a4a4a4"/><circle r="2" fill="#fff"/></g><g transform="translate(102.4,407.4)" stroke="#a4a4a4" stroke-width="2.6"><line x1="-3.3" y1="-3.3" x2="3.3" y2="3.3"/><line x1="-3.3" y1="3.3" x2="3.3" y2="-3.3"/></g><text x="119.7" y="411.3" font-size="10" font-weight="bold" fill="#222" textLength="63" lengthAdjust="spacingAndGlyphs">AUTO TREND</text><text x="186" y="411.3" font-size="10.5" fill="#555" textLength="21.5" lengthAdjust="spacingAndGlyphs">3 3 2</text><g transform="translate(218.6,407.4) scale(0.9)"><rect x="-1.3" y="-6" width="2.6" height="12" fill="#a4a4a4" transform="rotate(0)"/><rect x="-1.3" y="-6" width="2.6" height="12" fill="#a4a4a4" transform="rotate(45)"/><rect x="-1.3" y="-6" width="2.6" height="12" fill="#a4a4a4" transform="rotate(90)"/><rect x="-1.3" y="-6" width="2.6" height="12" fill="#a4a4a4" transform="rotate(135)"/><rect x="-1.3" y="-6" width="2.6" height="12" fill="#a4a4a4" transform="rotate(180)"/><rect x="-1.3" y="-6" width="2.6" height="12" fill="#a4a4a4" transform="rotate(225)"/><rect x="-1.3" y="-6" width="2.6" height="12" fill="#a4a4a4" transform="rotate(270)"/><rect x="-1.3" y="-6" width="2.6" height="12" fill="#a4a4a4" transform="rotate(315)"/><circle r="4.3" fill="#a4a4a4"/><circle r="2" fill="#fff"/></g><g transform="translate(235,407.4)" stroke="#a4a4a4" stroke-width="2.6"><line x1="-3.3" y1="-3.3" x2="3.3" y2="3.3"/><line x1="-3.3" y1="3.3" x2="3.3" y2="-3.3"/></g><rect x="4" y="475" width="68" height="21" fill="#fff" fill-opacity="0.78"/><text x="8" y="488" font-size="10" font-weight="bold" fill="#222" textLength="14.2" lengthAdjust="spacingAndGlyphs">RSI</text><text x="26.2" y="488" font-size="10.5" fill="#555" textLength="10" lengthAdjust="spacingAndGlyphs">14</text><g transform="translate(47,484.5) scale(0.9)"><rect x="-1.3" y="-6" width="2.6" height="12" fill="#a4a4a4" transform="rotate(0)"/><rect x="-1.3" y="-6" width="2.6" height="12" fill="#a4a4a4" transform="rotate(45)"/><rect x="-1.3" y="-6" width="2.6" height="12" fill="#a4a4a4" transform="rotate(90)"/><rect x="-1.3" y="-6" width="2.6" height="12" fill="#a4a4a4" transform="rotate(135)"/><rect x="-1.3" y="-6" width="2.6" height="12" fill="#a4a4a4" transform="rotate(180)"/><rect x="-1.3" y="-6" width="2.6" height="12" fill="#a4a4a4" transform="rotate(225)"/><rect x="-1.3" y="-6" width="2.6" height="12" fill="#a4a4a4" transform="rotate(270)"/><rect x="-1.3" y="-6" width="2.6" height="12" fill="#a4a4a4" transform="rotate(315)"/><circle r="4.3" fill="#a4a4a4"/><circle r="2" fill="#fff"/></g><g transform="translate(63.7,484.5)" stroke="#a4a4a4" stroke-width="2.6"><line x1="-3.3" y1="-3.3" x2="3.3" y2="3.3"/><line x1="-3.3" y1="3.3" x2="3.3" y2="-3.3"/></g><g stroke="#6e6e6e" stroke-width="1.1" fill="none"><line x1="85" y1="480.6" x2="85" y2="491.8"/><polyline points="80,485.9 85,480.6 90,485.9"/></g></svg>
</body></html>
